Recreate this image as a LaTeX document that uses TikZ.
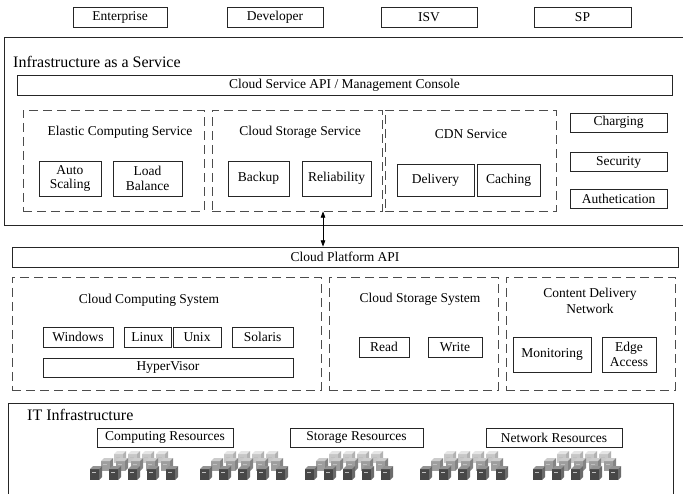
\documentclass[tikz,border=0pt]{standalone}
\usepackage{fontspec}
\setmainfont{Liberation Serif}
\usepackage{xcolor}
\usepackage{tikz}
\usetikzlibrary{arrows.meta,positioning}
\tikzset{
  >={Triangle[length=2.2mm,width=1.6mm]},
  cbox/.style={draw=black!85, fill=white, line width=0.8pt, align=center,
               inner sep=1pt, font=\fontsize{13.5}{14.5}\selectfont},
  cgrp/.style={draw=black!70, line width=0.8pt, dash pattern=on 9pt off 5pt,
               inner sep=0pt},
  cframe/.style={draw=black!85, line width=0.9pt, inner sep=0pt},
  clbl/.style={align=center, inner sep=0pt, font=\fontsize{13.5}{16}\selectfont},
  ctitle/.style={anchor=west, inner sep=0pt, font=\fontsize{16}{18}\selectfont},
  clink/.style={<->, line width=0.8pt},
}
% one small server: x, y of front lower-left corner, height, then front/top/side shade
\newcommand{\pcbox}[6]{%
  \fill[black!#4] (#1,#2) rectangle ++(9,-#3);
  \fill[black!#5] (#1,#2-#3) -- ++(3,-3) -- ++(9,0) -- ++(-3,3) -- cycle;
  \fill[black!#6] (#1+9,#2) -- ++(0,-#3) -- ++(3,-3) -- ++(0,#3) -- cycle;
  \draw[white!75!black, line width=0.5pt] (#1+2,#2-#3+3) -- ++(4,0);
}
% a rack of servers, three rows deep
\newcommand{\pcgroup}[1]{%
  \foreach \i in {0,...,3} {\pcbox{#1+24+14*\i}{463}{9}{22}{10}{30}}
  \foreach \i in {0,...,4} {\pcbox{#1+11+15*\i}{471}{10}{38}{20}{48}}
  \foreach \i in {0,...,4} {\pcbox{#1+19*\i}{480}{11}{72}{42}{58}}
}

\begin{document}
\begin{tikzpicture}[x=1pt,y=-1pt]
  \useasboundingbox (0,0) rectangle (683,494);

  % users
  \node[cbox, minimum width=94pt, minimum height=20pt] (ent) at (120,17.5) {Enterprise};
  \node[cbox, minimum width=96pt, minimum height=20pt] (dev) at (275,17.5) {Developer};
  \node[cbox, minimum width=96pt, minimum height=20pt] (isv) at (429,17.5) {ISV};
  \node[cbox, minimum width=97pt, minimum height=20pt] (sp)  at (582.5,17.5) {SP};

  % IaaS layer
  \node[cframe, anchor=north west, minimum width=700pt, minimum height=188pt] (iaas) at (4,37) {};
  \node[ctitle] (iaasT) at (13,62) {Infrastructure as a Service};
  \node[cbox, minimum width=655pt, minimum height=20pt] (csapi) at (344.5,85)
    {Cloud Service API / Management Console};

  \node[cgrp, minimum width=181pt, minimum height=101pt] (ecs) at (113.5,160.5) {};
  \node[cgrp, minimum width=170pt, minimum height=101pt] (css) at (297,160.5) {};
  \node[cgrp, minimum width=171pt, minimum height=101pt] (cdn) at (470.5,160.5) {};
  \node[clbl] (ecsT) at (120,132) {Elastic Computing Service};
  \node[clbl] (cssT) at (300,132) {Cloud Storage Service};
  \node[clbl] (cdnT) at (471,134) {CDN Service};

  \node[cbox, minimum width=62pt, minimum height=35pt] (auto) at (70,178.5) {Auto\\Scaling};
  \node[cbox, minimum width=69pt, minimum height=35pt] (lb)   at (147.5,178.5) {Load\\Balance};
  \node[cbox, minimum width=61pt, minimum height=35pt] (bak)  at (258.5,178.5) {Backup};
  \node[cbox, minimum width=69pt, minimum height=35pt] (rel)  at (336.5,178.5) {Reliability};
  \node[cbox, minimum width=77pt, minimum height=32pt] (dlv)  at (435.5,180) {Delivery};
  \node[cbox, minimum width=63pt, minimum height=32pt] (cch)  at (508.5,180) {Caching};

  \node[cbox, minimum width=97pt, minimum height=19pt] (chg) at (618.5,122.5) {Charging};
  \node[cbox, minimum width=97pt, minimum height=19pt] (sec) at (618.5,162) {Security};
  \node[cbox, minimum width=97pt, minimum height=19pt] (aut) at (618.5,199) {Authetication};

  % platform layer
  \node[cbox, minimum width=666pt, minimum height=20pt] (cpapi) at (345,257) {Cloud Platform API};
  \coordinate (link) at (323,0);
  \draw[clink] (link |- cpapi.north) -- (link |- css.south);

  \node[cgrp, minimum width=309pt, minimum height=113pt] (ccsys) at (166.5,333.5) {};
  \node[cgrp, minimum width=169pt, minimum height=113pt] (cssys) at (413.5,333.5) {};
  \node[cgrp, minimum width=169pt, minimum height=113pt] (cdnet) at (590.5,333.5) {};
  \node[clbl] (ccsysT) at (149,300) {Cloud Computing System};
  \node[clbl] (cssysT) at (420,299) {Cloud Storage System};
  \node[clbl] (cdnetT) at (590,300.5) {Content Delivery\\Network};

  \node[cbox, minimum width=70pt, minimum height=20pt] (win) at (78,337) {Windows};
  \node[cbox, minimum width=47pt, minimum height=20pt] (lnx) at (147.5,337) {Linux};
  \node[cbox, minimum width=48pt, minimum height=20pt] (unx) at (197,337) {Unix};
  \node[cbox, minimum width=61pt, minimum height=20pt] (sol) at (262.5,337) {Solaris};
  \node[cbox, minimum width=250pt, minimum height=19pt] (hyp) at (168,367.5) {HyperVisor};

  \node[cbox, minimum width=50pt, minimum height=20pt] (rd) at (384,347) {Read};
  \node[cbox, minimum width=54pt, minimum height=20pt] (wr) at (455,347) {Write};

  \node[cbox, minimum width=78pt, minimum height=35pt] (mon)  at (552,354.5) {Monitoring};
  \node[cbox, minimum width=54pt, minimum height=35pt] (edge) at (629,354.5) {Edge\\Access};

  % physical layer
  \node[cframe, anchor=north west, minimum width=665pt, minimum height=110pt] (itinf) at (8,403) {};
  \node[ctitle] (itinfT) at (27,415) {IT Infrastructure};
  \node[cbox, minimum width=136pt, minimum height=19pt] (cres) at (165,437.5) {Computing Resources};
  \node[cbox, minimum width=133pt, minimum height=19pt] (sres) at (356.5,437.5) {Storage Resources};
  \node[cbox, minimum width=136pt, minimum height=19pt] (nres) at (554,437.5) {Network Resources};

  \foreach \gx in {90,200,305,420,533} {\pcgroup{\gx}}

\end{tikzpicture}
\end{document}
